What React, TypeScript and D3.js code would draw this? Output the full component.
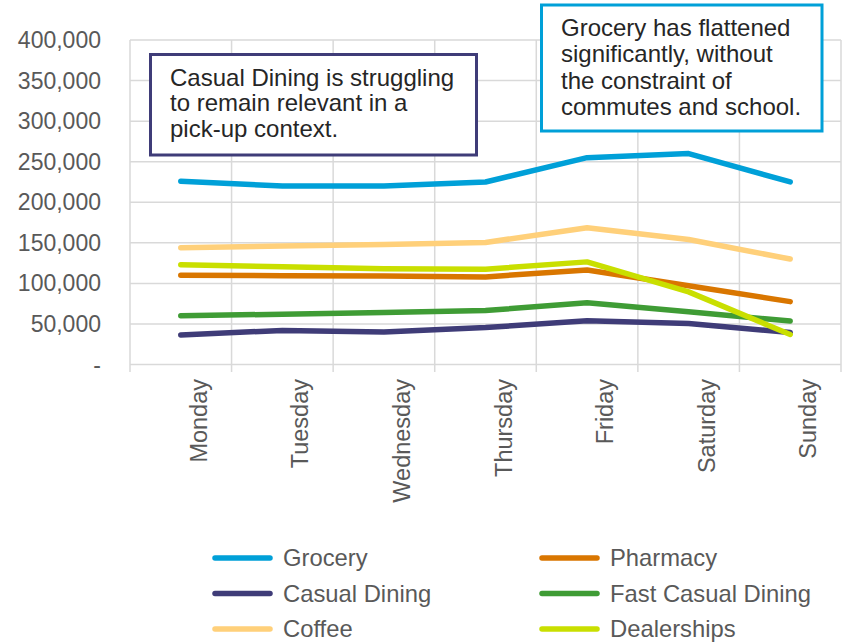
import React from "react";
import * as d3 from "d3";

const days = ["Monday", "Tuesday", "Wednesday", "Thursday", "Friday", "Saturday", "Sunday"];
const grocery = [226000, 220000, 220000, 225000, 255000, 260000, 225000];
const pharmacy = [110000, 109500, 109000, 108000, 116500, 97000, 77500];
const casualDining = [36500, 42000, 40000, 45500, 54000, 50500, 39500];
const fastCasual = [60000, 62000, 64000, 66500, 76000, 65000, 53500];
const coffee = [144000, 146000, 148000, 150500, 168500, 154000, 130000];
const dealerships = [123000, 120500, 118000, 117500, 126500, 89500, 37000];
const yTicks = [0, 50000, 100000, 150000, 200000, 250000, 300000, 350000, 400000];

const seriesNames = ["Grocery", "Pharmacy", "Casual Dining", "Fast Casual Dining", "Coffee", "Dealerships"];
const seriesColors = ["#00a0d8", "#d97600", "#3f3c78", "#3f9c35", "#ffd07a", "#c9df00"];
const seriesValues = [grocery, pharmacy, casualDining, fastCasual, coffee, dealerships];
const drawOrder = [0, 1, 2, 3, 4, 5];

const note1 = ["Casual Dining is struggling", "to remain relevant in a", "pick-up context."];
const note2 = ["Grocery has flattened", "significantly, without", "the constraint of", "commutes and school."];

const FONT = "'Liberation Sans', Arial, Helvetica, sans-serif";

export default function App() {
  const W = 846, H = 642;
  const left = 130, right = 841, top = 40, bottom = 364.5;
  const x = d3.scaleBand<string>().domain(days).range([left, right]).padding(0);
  const y = d3.scaleLinear().domain([0, 400000]).range([bottom, top]);
  const cx = (d: string) => (x(d) as number) + x.bandwidth() / 2;
  const line = d3
    .line<number>()
    .x((_, i) => cx(days[i]))
    .y((v) => y(v))
    .curve(d3.curveLinear);
  const fmt = (v: number) => (v === 0 ? "-" : d3.format(",")(v));
  const vLines = days.map((d) => x(d) as number).concat([right]);
  const legendCols = [215, 542];
  const legendRows = [558, 593.5, 629];

  return (
    <svg width={W} height={H} style={{ position: "absolute", left: 0, top: 0, background: "#fff" }} fontFamily={FONT}>
      <rect x={0} y={0} width={W} height={H} fill="#fff" />
      {/* grid */}
      {yTicks.map((t) => (
        <line key={"h" + t} x1={left} x2={right} y1={y(t)} y2={y(t)} stroke="#d9d9d9" strokeWidth={1.5} />
      ))}
      {vLines.map((vx, i) => (
        <line key={"v" + i} x1={vx} x2={vx} y1={top} y2={372} stroke="#d9d9d9" strokeWidth={1.5} />
      ))}
      {/* y labels */}
      {yTicks.map((t) => (
        <text key={"yl" + t} x={101} y={y(t)} dy="0.35em" textAnchor="end" fontSize={23} fill="#595959">
          {fmt(t)}
        </text>
      ))}
      {/* x labels */}
      {days.map((d) => (
        <text
          key={"xl" + d}
          transform={`translate(${cx(d) + 26},379) rotate(-90)`}
          textAnchor="end"
          fontSize={23.5}
          fill="#595959"
        >
          {d}
        </text>
      ))}
      {/* lines */}
      {drawOrder.map((i) => (
        <path
          key={"s" + i}
          d={line(seriesValues[i]) as string}
          fill="none"
          stroke={seriesColors[i]}
          strokeWidth={5.5}
          strokeLinecap="round"
          strokeLinejoin="round"
        />
      ))}
      {/* annotation 1 */}
      <rect x={150.5} y={54.5} width={326} height={100.5} fill="#fff" stroke="#3f3c78" strokeWidth={3} />
      {note1.map((s, i) => (
        <text key={"n1" + i} x={170} y={86 + i * 25.3} fontSize={24} fill="#262626">
          {s}
        </text>
      ))}
      {/* annotation 2 */}
      <rect x={541.5} y={5} width={280.5} height={126} fill="#fff" stroke="#00a0d8" strokeWidth={3} />
      {note2.map((s, i) => (
        <text key={"n2" + i} x={561} y={36 + i * 26.3} fontSize={24} fill="#262626">
          {s}
        </text>
      ))}
      {/* legend */}
      {seriesNames.map((n, i) => {
        const col = i % 2;
        const row = Math.floor(i / 2);
        const lx = legendCols[col];
        const ly = legendRows[row];
        return (
          <g key={"lg" + i}>
            <line x1={lx} x2={lx + 55} y1={ly} y2={ly} stroke={seriesColors[i]} strokeWidth={5.5} strokeLinecap="round" />
            <text x={lx + 68} y={ly} dy="0.35em" fontSize={23.8} fill="#595959">
              {n}
            </text>
          </g>
        );
      })}
    </svg>
  );
}
